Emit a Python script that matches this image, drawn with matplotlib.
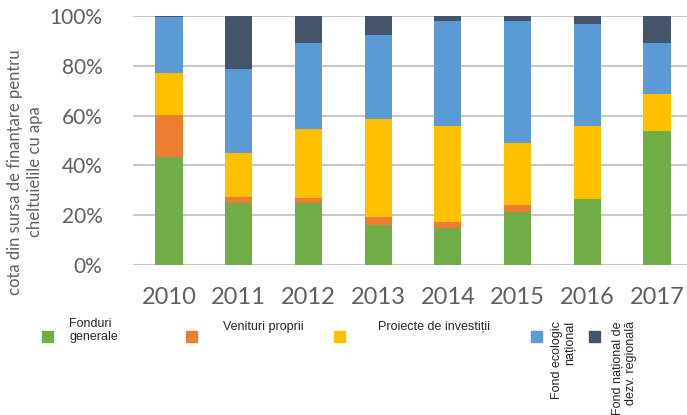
import matplotlib
matplotlib.use("Agg")
import matplotlib.pyplot as plt
from matplotlib.patches import Rectangle
import numpy as np

years = ["2010", "2011", "2012", "2013", "2014", "2015", "2016", "2017"]
fonduri_generale = [43.5, 25.0, 25.0, 16.1, 14.7, 21.3, 26.4, 53.9]
venituri_proprii = [16.7, 2.4, 1.9, 3.3, 2.4, 2.8, 0.0, 0.0]
proiecte_investitii = [16.8, 17.7, 27.6, 39.4, 38.7, 24.8, 29.4, 14.6]
fond_ecologic = [22.5, 33.7, 34.5, 33.6, 42.3, 49.2, 40.9, 20.5]
fond_dezv_regionala = [0.5, 21.2, 11.0, 7.6, 1.9, 1.9, 3.3, 11.0]

series = [fonduri_generale, venituri_proprii, proiecte_investitii, fond_ecologic, fond_dezv_regionala]
labels = ["Fonduri\ngenerale", "Venituri proprii", "Proiecte de investiții",
          "Fond ecologic\nnațional", "Fond național de\ndezv. regională"]
colors = ["#70AD47", "#ED7D31", "#FFC000", "#5B9BD5", "#44546A"]
yticks = [0, 20, 40, 60, 80, 100]
ytick_labels = ["0%", "20%", "40%", "60%", "80%", "100%"]

W, H = 687, 415
fig = plt.figure(figsize=(W / 100, H / 100), dpi=100)
ax = fig.add_axes([133 / W, 1 - 265 / H, (687 - 133) / W, (265 - 16) / H])

x = np.arange(len(years))
bottom = np.zeros(len(years))
for vals, col in zip(series, colors):
    vals = np.array(vals)
    ax.bar(x, vals, bottom=bottom, width=0.39, color=col, zorder=3)
    bottom += vals

ax.set_xlim(-0.516, 7.43)
ax.set_ylim(0, 100)
ax.set_yticks(yticks)
ax.set_yticklabels(ytick_labels)
ax.set_xticks(x)
ax.set_xticklabels(years)
for s in ax.spines.values():
    s.set_visible(False)
ax.grid(axis="y", color="#c8c8c8", linewidth=1.5, zorder=0)
ax.tick_params(axis="both", length=0, colors="#595959")
for lab in ax.get_yticklabels():
    lab.set_fontfamily("Lato")
    lab.set_fontsize(15)
    lab.set_color("#5f5f5f")
for lab in ax.get_xticklabels():
    lab.set_fontfamily("Lato")
    lab.set_fontsize(17)
    lab.set_color("#5f5f5f")
ax.tick_params(axis="y", pad=22)
ax.tick_params(axis="x", pad=16)

# y label
fig.text(25 / W, 1 - 172 / H, "cota din sursa de finanțare pentru\ncheltuielile cu apa",
         rotation=90, ha="center", va="center", multialignment="center",
         fontsize=12, family="Lato", color="#5f5f5f", linespacing=1.3)

# legend (manual)
def px_rect(xp, yp, col, size=11):
    fig.add_artist(Rectangle((xp / W, 1 - (yp + size) / H), size / W, size / H,
                             transform=fig.transFigure, color=col))

sq = [(42, 331), (186, 331), (334, 331), (531, 331), (589, 331)]
for (xp, yp), col in zip(sq, colors):
    px_rect(xp, yp, col)

tkw = dict(fontsize=9, family="Liberation Sans", color="#262626")
fig.text(69 / W, 1 - 318 / H, labels[0], ha="left", va="top", linespacing=1.15, **tkw)
fig.text(223 / W, 1 - 321 / H, labels[1], ha="left", va="top", **tkw)
fig.text(378 / W, 1 - 321 / H, labels[2], ha="left", va="top", **tkw)
fig.text(551 / W, 1 - 321 / H, labels[3], ha="left", va="top", rotation=90,
         multialignment="right", linespacing=1.15, **tkw)
fig.text(612 / W, 1 - 321 / H, labels[4], ha="left", va="top", rotation=90,
         multialignment="right", linespacing=1.15, **tkw)

fig.savefig("out.png", dpi=100)
